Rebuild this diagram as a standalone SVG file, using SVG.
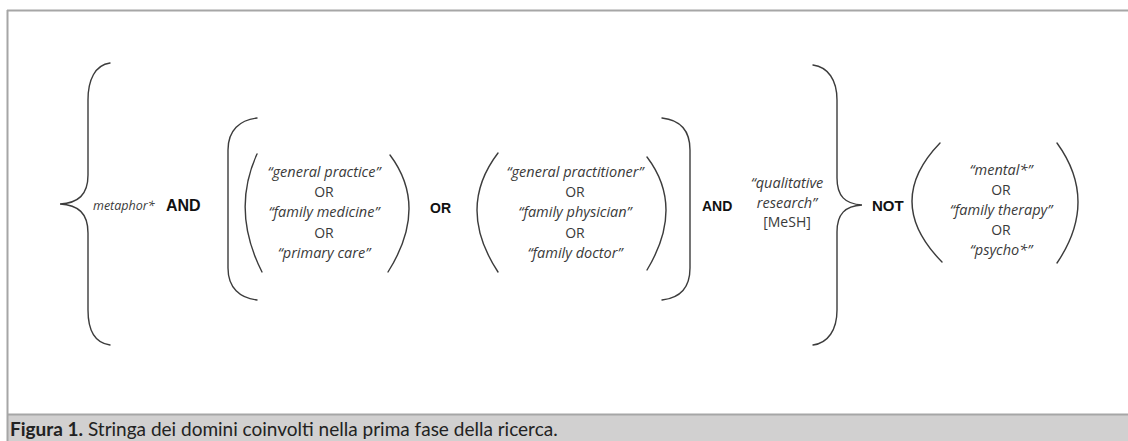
<svg xmlns="http://www.w3.org/2000/svg" width="1128" height="441" viewBox="0 0 1128 441">
<style>
.br{fill:none;stroke:#3c3c3c;stroke-width:1.4;stroke-linecap:round}
.it{font-family:"Open Sans","Noto Sans",sans-serif;font-style:italic;font-size:14.5px;fill:#3a3a3a}
.rg{font-family:"Open Sans","Noto Sans",sans-serif;font-size:14px;fill:#3a3a3a}
.bd{font-family:"Liberation Sans",Arial,sans-serif;font-weight:bold;font-size:14px;fill:#111}
.cap{font-family:Lato,"Open Sans",sans-serif;font-size:19px;fill:#222}
</style>
<rect x="0" y="0" width="1128" height="441" fill="#fff"/>
<g id="frame">
<rect x="7" y="415" width="1121" height="26" fill="#d1d0d0"/>
<line x1="7" y1="414.5" x2="1128" y2="414.5" stroke="#a6a6a6" stroke-width="2"/>
<line x1="7" y1="10.5" x2="1128" y2="10.5" stroke="#a6a6a6" stroke-width="2"/>
<line x1="7.5" y1="10" x2="7.5" y2="441" stroke="#a6a6a6" stroke-width="2"/>
</g>
<g id="connectors">
<path class="br" d="M110,63 C95,65 88,80 88,100 L88,175 C88,195 78,203 60,204 C78,205 88,213 88,233 L88,310 C88,330 95,343 110,345"/>
<path class="br" d="M257,118 C240,120 228,130 228,150 L228,268 C228,288 240,298 257,300"/>
<path class="br" d="M662,118 C680,120 690,130 690,150 L690,268 C690,288 680,298 662,300"/>
<path class="br" d="M813,65 C828,67 837,80 837,100 L837,178 C837,196 845,204 862,205 C845,206 837,214 837,232 L837,310 C837,330 828,343 813,345"/>
<path class="br" d="M257,154 Q231,211 262,272"/>
<path class="br" d="M390,155 Q429,207 388,272"/>
<path class="br" d="M498,153 Q456,208 498,272"/>
<path class="br" d="M647,157 Q685,207 647,270"/>
<path class="br" d="M940,143 Q883,202 942,262"/>
<path class="br" d="M1057,143 Q1099,201 1057,263"/>
</g>
<g id="term-metaphor">
<text class="it" x="93" y="210" style="font-size:12.5px">metaphor*</text>
<text class="bd" x="166" y="211" style="font-size:16px">AND</text>
</g>
<g id="group-practice">
<text class="it" x="324" y="177" text-anchor="middle">“general practice”</text>
<text class="rg" x="324" y="197" text-anchor="middle">OR</text>
<text class="it" x="324" y="217" text-anchor="middle">“family medicine”</text>
<text class="rg" x="324" y="238" text-anchor="middle">OR</text>
<text class="it" x="324" y="258" text-anchor="middle">“primary care”</text>
</g>
<g id="op-or">
<text class="bd" x="430" y="213">OR</text>
</g>
<g id="group-practitioner">
<text class="it" x="575" y="177" text-anchor="middle">“general practitioner”</text>
<text class="rg" x="575" y="197" text-anchor="middle">OR</text>
<text class="it" x="575" y="217" text-anchor="middle">“family physician”</text>
<text class="rg" x="575" y="238" text-anchor="middle">OR</text>
<text class="it" x="575" y="258" text-anchor="middle">“family doctor”</text>
</g>
<g id="op-and">
<text class="bd" x="702" y="211">AND</text>
</g>
<g id="term-qualitative">
<text class="it" x="787" y="188" text-anchor="middle">“qualitative</text>
<text class="it" x="787" y="208" text-anchor="middle">research”</text>
<text class="rg" x="787" y="227" text-anchor="middle">[MeSH]</text>
</g>
<g id="op-not">
<text class="bd" x="872" y="211" style="font-size:15px">NOT</text>
</g>
<g id="group-exclude">
<text class="it" x="1001" y="175" text-anchor="middle">“mental*”</text>
<text class="rg" x="1001" y="195" text-anchor="middle">OR</text>
<text class="it" x="1001" y="215" text-anchor="middle">“family therapy”</text>
<text class="rg" x="1001" y="235" text-anchor="middle">OR</text>
<text class="it" x="1001" y="255" text-anchor="middle">“psycho*”</text>
</g>
<g id="caption">
<text class="cap" x="10" y="436"><tspan font-weight="bold">Figura 1.</tspan> Stringa dei domini coinvolti nella prima fase della ricerca.</text>
</g>
</svg>
